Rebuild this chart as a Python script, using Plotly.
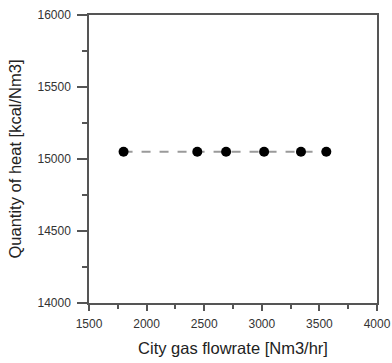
import plotly.graph_objects as go

flowrate = [1800, 2440, 2690, 3020, 3340, 3560]
heat = [15050, 15050, 15050, 15050, 15050, 15050]

x_title = "City gas flowrate [Nm3/hr]"
y_title = "Quantity of heat [kcal/Nm3]"

fig = go.Figure()
fig.add_trace(go.Scatter(
    x=flowrate, y=heat, mode="lines+markers",
    line=dict(color="#9a9a9a", width=2, dash="dash"),
    marker=dict(color="black", size=10),
    showlegend=False,
))

font = "Liberation Sans, Arial, sans-serif"
axis_common = dict(
    showgrid=False, zeroline=False, showline=True, linecolor="#555555", linewidth=1.5,
    mirror=True, ticks="outside", tickcolor="#555555", tickwidth=1.5, automargin=False,
    tickfont=dict(family=font, size=12, color="#333333"), tickformat="d",
)
fig.update_xaxes(range=[1500, 4000], dtick=500, ticklen=6, ticklabelstandoff=3,
                 minor=dict(ticks="outside", ticklen=4, dtick=250, tickcolor="#555555", tickwidth=1.5),
                 title=dict(text=x_title, font=dict(family=font, size=16.5, color="#222222"), standoff=12),
                 **axis_common)
fig.update_yaxes(range=[14000, 16000], dtick=500, ticklen=10, ticklabelstandoff=4,
                 minor=dict(ticks="outside", ticklen=5, dtick=250, tickcolor="#555555", tickwidth=1.5),
                 title=dict(text=y_title, font=dict(family=font, size=16.5, color="#222222"), standoff=12),
                 **axis_common)
fig.update_layout(
    width=392, height=363,
    margin=dict(l=89, r=15, t=15, b=60),
    plot_bgcolor="white", paper_bgcolor="white",
)
fig.write_html("out.html", config={"displayModeBar": False},
               post_script="document.body.style.margin='0';document.body.style.overflow='hidden';")
